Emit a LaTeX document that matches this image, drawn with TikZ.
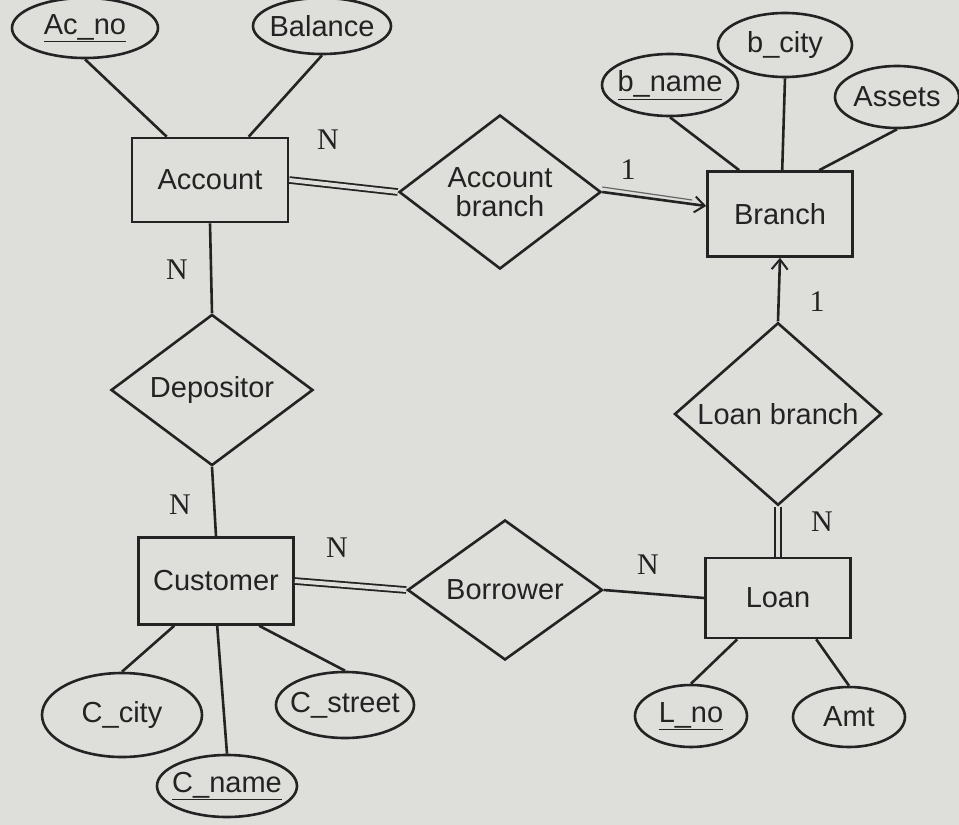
\documentclass[tikz,border=0pt]{standalone}
\usepackage{fontspec}
\setmainfont{Liberation Sans}
\newfontfamily\cardfont{Liberation Serif}
\usetikzlibrary{shapes.geometric,arrows.meta,calc}
\definecolor{paper}{RGB}{222,222,219}
\definecolor{ink}{RGB}{35,35,35}
\begin{document}
\begin{tikzpicture}[x=1pt,y=-1pt,
  lbl/.style={font=\fontsize{29}{31}\selectfont,text=ink},
  entity/.style={lbl,draw=ink,line width=2.6pt,rectangle,inner sep=0pt},
  attr/.style={lbl,draw=ink,line width=2.6pt,ellipse,inner sep=-6pt},
  rel/.style={lbl,draw=ink,line width=2.6pt,diamond,inner sep=0pt,align=center},
  conn/.style={draw=ink,line width=2.6pt},
  dbl/.style={draw=ink,line width=1.8pt,double=paper,double distance=4pt},
  tip/.style={-{Straight Barb[length=10pt,width=16pt,line width=2pt]}},
  card/.style={font=\cardfont\fontsize{30}{32}\selectfont,text=ink}]
\fill[paper] (0,0) rectangle (959,825);
\useasboundingbox (0,0) rectangle (959,825);

% entities
\node[entity,minimum width=156pt,minimum height=84pt] (acc) at (210,180) {Account};
\node[entity,minimum width=145pt,minimum height=85pt] (branch) at (780,214) {Branch};
\node[entity,minimum width=145pt,minimum height=80pt] (loan) at (778,598) {Loan};
\node[entity,minimum width=155pt,minimum height=87pt] (cust) at (216,581) {Customer};

% relationships
\node[rel,minimum width=202pt,minimum height=140pt] (ab) at (500,192) {Account\\[-2pt]branch};
\node[rel,minimum width=202pt,minimum height=144pt] (dep) at (212,390) {Depositor};
\node[rel,minimum width=195pt,minimum height=140pt] (bor) at (505,590) {Borrower};
\node[rel,minimum width=207pt,minimum height=142pt] (lb) at (778,414) {Loan branch};

% attributes
\node[attr,minimum width=146pt,minimum height=60pt] (acno) at (85,28) {\underline{Ac\_no}};
\node[attr,minimum width=138pt,minimum height=56pt] (balance) at (322,26) {Balance};
\node[attr,minimum width=136pt,minimum height=62pt] (bname) at (670,85) {\underline{b\_name}};
\node[attr,minimum width=134pt,minimum height=64pt] (bcity) at (785,45) {b\_city};
\node[attr,minimum width=124pt,minimum height=62pt] (assets) at (897,97) {Assets};
\node[attr,minimum width=112pt,minimum height=62pt] (lno) at (691,716) {\underline{L\_no}};
\node[attr,minimum width=112pt,minimum height=60pt] (amt) at (849,717) {Amt};
\node[attr,minimum width=160pt,minimum height=84pt] (ccity) at (122,715) {C\_city};
\node[attr,minimum width=140pt,minimum height=62pt] (cname) at (227,786) {\underline{C\_name}};
\node[attr,minimum width=136pt,minimum height=66pt] (cstreet) at (345,705) {C\_street};

% attribute links
\draw[conn] (acno.south) -- ([xshift=36pt]acc.north west);
\draw[conn] (balance.south) -- ([xshift=118pt]acc.north west);
\draw[conn] (bname.south) -- ([xshift=33pt]branch.north west);
\draw[conn] (bcity.south) -- ([xshift=76pt]branch.north west);
\draw[conn] (assets.south) -- ([xshift=113pt]branch.north west);
\draw[conn] (lno.north) -- ([xshift=33pt]loan.south west);
\draw[conn] (amt.north) -- ([xshift=112pt]loan.south west);
\draw[conn] (ccity.north) -- ([xshift=37pt]cust.south west);
\draw[conn] (cname.north) -- ([xshift=80pt]cust.south west);
\draw[conn] (cstreet.north) -- ([xshift=122pt]cust.south west);

% relationship links
\draw[dbl] (acc.east) -- (ab.west);
\draw[conn,tip] (ab.east) -- ([yshift=8pt]branch.west);
\draw[ink!70,line width=1.2pt] ([yshift=5pt]ab.east) -- ([yshift=14pt,xshift=-14pt]branch.west);
\draw[conn] (acc.south) -- (dep.north);
\draw[conn] (dep.south) -- (cust.north);
\draw[dbl] (cust.east) -- (bor.west);
\draw[conn] (bor.east) -- (loan.west);
\draw[dbl] (lb.south) -- (loan.north);
\draw[conn,tip] (lb.north) -- (branch.south);

% cardinalities
\node[card] (c1) at (328,140) {N};
\node[card] (c2) at (628,170) {1};
\node[card] (c3) at (177,270) {N};
\node[card] (c4) at (180,505) {N};
\node[card] (c5) at (337,548) {N};
\node[card] (c6) at (648,565) {N};
\node[card] (c7) at (817,302) {1};
\node[card] (c8) at (822,522) {N};
\end{tikzpicture}
\end{document}
